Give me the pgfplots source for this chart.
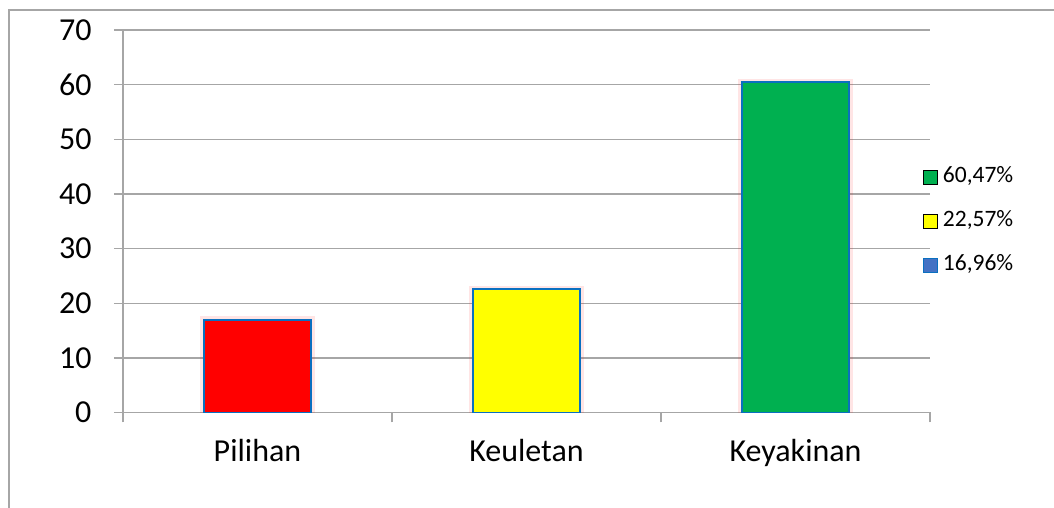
\documentclass[border=0pt]{standalone}
\usepackage{fontspec}
\setmainfont{Carlito}
\usepackage{pgfplots}
\pgfplotsset{compat=1.18}
\definecolor{gridc}{HTML}{A6A6A6}
\definecolor{edgec}{HTML}{0A70C0}
\definecolor{xgreen}{HTML}{00B050}
\definecolor{xyellow}{HTML}{FFFF00}
\definecolor{xred}{HTML}{FF0000}
\definecolor{xblue}{HTML}{4472C4}
\begin{document}
\begin{tikzpicture}[x=1pt,y=1pt]
\useasboundingbox (0,0) rectangle (1054,508);
\draw[gridc, line width=1.5pt] (9,0) -- (9,498) -- (1054,498);
\begin{axis}[
  at={(123pt,95.5pt)}, anchor=south west,
  scale only axis, width=807pt, height=382.5pt,
  xmin=0, xmax=3, ymin=0, ymax=70,
  axis x line*=bottom, axis y line*=left,
  axis line style={gridc, line width=1.4pt},
  ytick={0,10,...,70},
  ymajorgrids, grid style={gridc, line width=1.4pt},
  xtick={0.5,1.5,2.5}, xticklabels={Pilihan,Keuletan,Keyakinan},
  major x tick style={draw=none},
  minor xtick={0,1,2,3},
  tick style={gridc, line width=1.4pt},
  tick align=outside, major tick length=9pt, minor tick length=10pt,
  tick label style={font=\fontsize{32}{38}\selectfont},
  yticklabel style={xshift=-19pt},
  xticklabel style={yshift=-14pt},
  /pgf/number format/assume math mode=true,
  legend style={at={(0.991,0.5005)}, anchor=west, draw=none, fill=none,
    font=\fontsize{23.5}{28}\selectfont, inner sep=0pt, row sep=22pt,
    nodes={inner sep=2pt, text height=14pt, text depth=4pt},
    /tikz/every odd column/.append style={column sep=3pt}},
  legend cell align=left,
  legend image code/.code={\draw[#1] (0pt,-7pt) rectangle (14pt,7pt);},
]
\addplot[ybar, bar width=0.4, bar shift=0pt, fill=xred, draw=edgec, line width=1.8pt,
  preaction={draw=red, draw opacity=0.1, line width=7pt}, forget plot] coordinates {(0.5,16.96)};
\addplot[ybar, bar width=0.4, bar shift=0pt, fill=xyellow, draw=edgec, line width=1.8pt,
  preaction={draw=red, draw opacity=0.1, line width=7pt}, forget plot] coordinates {(1.5,22.57)};
\addplot[ybar, bar width=0.4, bar shift=0pt, fill=xgreen, draw=edgec, line width=1.8pt,
  preaction={draw=red, draw opacity=0.1, line width=7pt}, forget plot] coordinates {(2.5,60.47)};
\addlegendimage{fill=xgreen, draw=none}
\addlegendentry{60,47\%}
\addlegendimage{fill=xyellow, draw=none}
\addlegendentry{22,57\%}
\addlegendimage{fill=xblue, draw=edgec, line width=1pt}
\addlegendentry{16,96\%}
\end{axis}
\end{tikzpicture}
\end{document}
